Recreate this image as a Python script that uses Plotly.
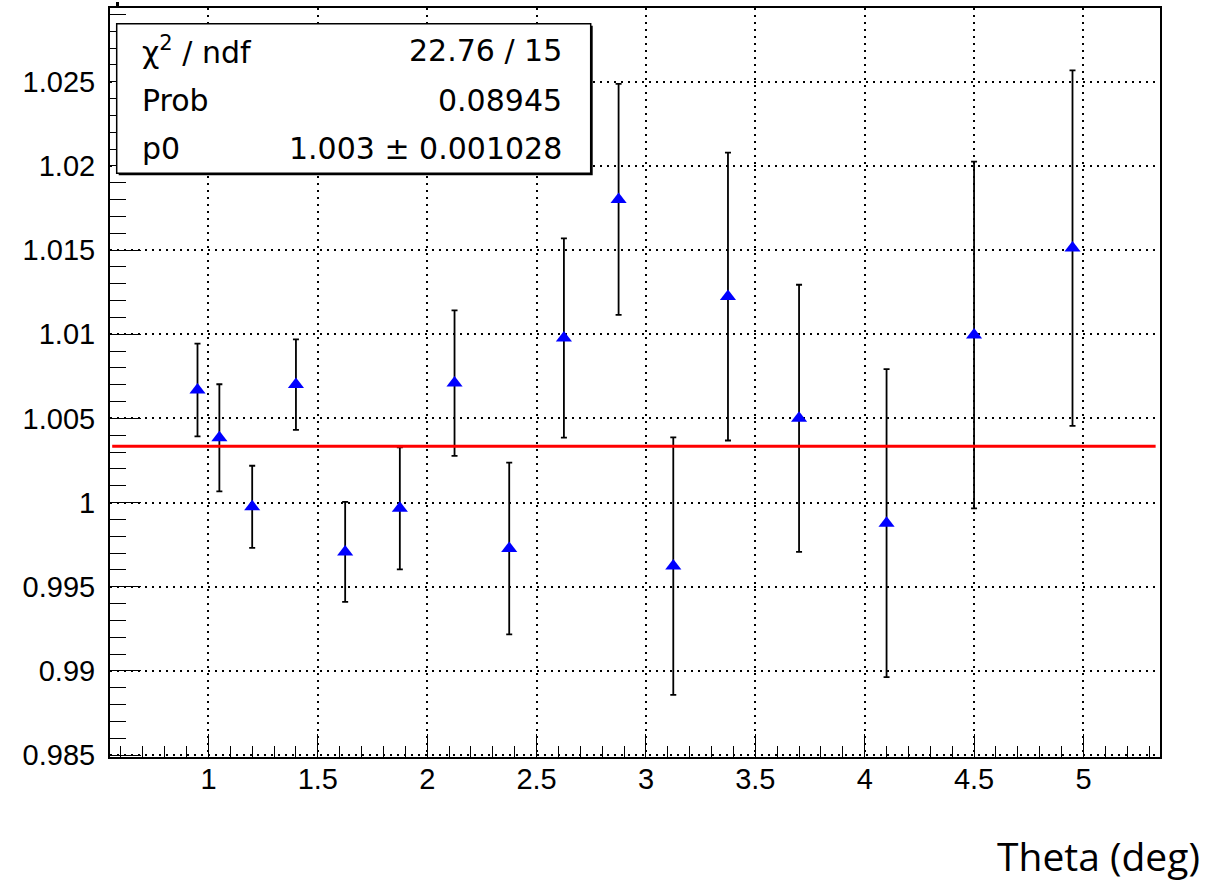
import plotly.graph_objects as go

# ---------------- data ----------------
theta = [0.95, 1.05, 1.2, 1.4, 1.625, 1.875, 2.125, 2.375, 2.625, 2.875,
         3.125, 3.375, 3.7, 4.1, 4.5, 4.95]
ratio = [1.00669, 1.00385, 0.99975, 1.00701, 0.99707, 0.99966, 1.0071, 0.99727,
         1.00978, 1.01801, 0.99623, 1.01224, 1.00501, 0.99878, 1.00996, 1.01512]
ratio_err = [0.00276, 0.00318, 0.00244, 0.00269, 0.00297, 0.00362, 0.00432, 0.0051,
             0.00592, 0.00686, 0.00765, 0.00855, 0.00793, 0.00915, 0.0103, 0.01056]

fit_p0 = 1.00335
fit_range = [0.56, 5.33]

x_tick_vals = [1, 1.5, 2, 2.5, 3, 3.5, 4, 4.5, 5]
x_tick_text = ["1", "1.5", "2", "2.5", "3", "3.5", "4", "4.5", "5"]
y_tick_vals = [0.985, 0.99, 0.995, 1.0, 1.005, 1.01, 1.015, 1.02, 1.025]
y_tick_text = ["0.985", "0.99", "0.995", "1", "1.005", "1.01", "1.015", "1.02", "1.025"]

stats_labels = ["\u03c7<sup>2</sup> / ndf", "Prob", "p0"]
stats_values = ["22.76 / 15", "0.08945", "1.003 \u00b1 0.001028"]
x_title = "Theta (deg)"

# ---------------- layout geometry (pixels) ----------------
W, H = 1230, 883
L, R, T, B = 110, 70, 6, 126
PW, PH = W - L - R, H - T - B


def px(xp):
    return (xp - L) / PW


def py(yp):
    return (H - B - yp) / PH


fig = go.Figure()

fig.add_trace(go.Scatter(
    x=theta, y=ratio, mode="markers",
    marker=dict(symbol="triangle-up", size=14, color="#0000ff", line=dict(width=0)),
    error_y=dict(type="data", array=ratio_err, visible=True, color="black",
                 thickness=1.8, width=3),
    showlegend=False, hoverinfo="x+y",
))

fig.add_trace(go.Scatter(
    x=fit_range, y=[fit_p0, fit_p0], mode="lines",
    line=dict(color="#ff0000", width=3), showlegend=False, hoverinfo="skip",
))

axis_common = dict(
    showline=True, linewidth=2, linecolor="black", mirror=True,
    ticks="inside", tickcolor="black", tickwidth=1,
    showgrid=True, gridcolor="black", gridwidth=1.5, griddash="2px,5px",
    zeroline=False, tickmode="array",
    tickfont=dict(family="Liberation Sans, Arial, sans-serif", size=29, color="black"),
)

fig.update_xaxes(
    range=[0.55, 5.35], tickvals=x_tick_vals, ticktext=x_tick_text, ticklen=23,
    ticklabelstandoff=-5,
    minor=dict(ticks="inside", ticklen=11.5, tickcolor="black", tickwidth=1,
               tickmode="linear", tick0=0.5, dtick=0.1, showgrid=False),
    **axis_common,
)
fig.update_yaxes(
    range=[0.98489, 1.02938], tickvals=y_tick_vals, ticktext=y_tick_text, ticklen=31,
    ticklabelstandoff=7,
    minor=dict(ticks="inside", ticklen=15.5, tickcolor="black", tickwidth=1,
               tickmode="linear", tick0=0.985, dtick=0.001, showgrid=False),
    **axis_common,
)

shapes = [
    # stats box shadow
    dict(type="rect", xref="paper", yref="paper", layer="above",
         x0=px(118.7), x1=px(592.7), y0=py(173.7), y1=py(23.7),
         fillcolor="black", line=dict(width=0)),
    # stats box
    dict(type="rect", xref="paper", yref="paper", layer="above",
         x0=px(116.7), x1=px(590.7), y0=py(171.7), y1=py(21.7),
         fillcolor="white", line=dict(color="black", width=1.5)),
    # small clipped stroke at top-left
    dict(type="line", xref="paper", yref="paper", layer="above",
         x0=px(117.5), x1=px(117.5), y0=py(0), y1=py(5),
         line=dict(color="black", width=3)),
]

box_font = dict(family="DejaVu Sans, sans-serif", size=30, color="black")
line_y = [49, 99, 147]
annotations = []
for lab, val, yy in zip(stats_labels, stats_values, line_y):
    annotations.append(dict(xref="paper", yref="paper", x=px(140), y=py(yy),
                            xanchor="left", yanchor="middle", text=lab,
                            showarrow=False, font=box_font))
    annotations.append(dict(xref="paper", yref="paper", x=px(564), y=py(yy),
                            xanchor="right", yanchor="middle", text=val,
                            showarrow=False, font=box_font))

# axis title
annotations.append(dict(xref="paper", yref="paper", x=px(1202), y=py(884),
                        xanchor="right", yanchor="bottom", text=x_title,
                        showarrow=False,
                        font=dict(family="Open Sans, sans-serif", size=39, color="black")))

fig.update_layout(
    width=W, height=H,
    margin=dict(l=L, r=R, t=T, b=B, pad=0),
    paper_bgcolor="white", plot_bgcolor="white",
    shapes=shapes, annotations=annotations,
    showlegend=False,
)

fig.write_html("out.html", config={"displayModeBar": False},
               post_script="document.body.style.margin='0';")
